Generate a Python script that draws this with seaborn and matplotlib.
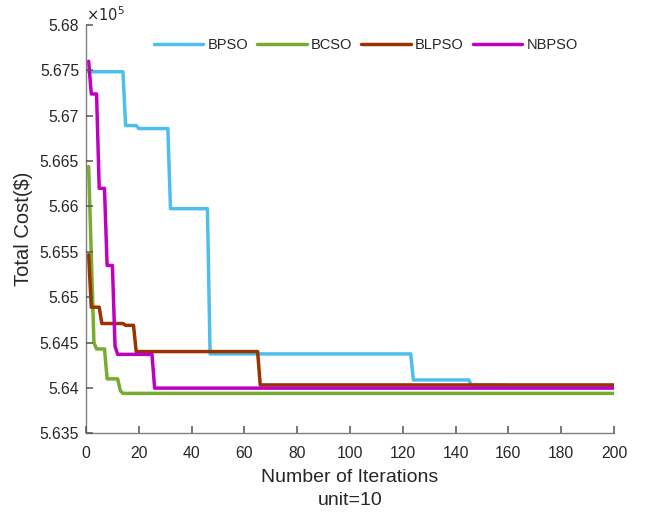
import matplotlib
matplotlib.use("Agg")
import matplotlib.pyplot as plt
import pandas as pd
import seaborn as sns
from matplotlib.ticker import FuncFormatter

# Convergence curves (vertices of each polyline)
bpso_it = [1, 14, 15, 19, 20, 31, 32, 46, 47, 123, 124, 145, 146, 159, 160, 200]
bpso_val = [567485, 567485, 566892, 566892, 566859, 566859, 565976, 565976,
            564375, 564375, 564088, 564088, 564030, 564030, 564012, 564012]

bcso_it = [1, 2, 3, 4, 7, 8, 12, 13, 14, 200]
bcso_val = [566440, 565470, 564500, 564430, 564430, 564100, 564100, 563970,
            563940, 563940]

blpso_it = [1, 2, 5, 6, 14, 15, 18, 19, 65, 66, 200]
blpso_val = [565468, 564890, 564890, 564710, 564710, 564690, 564690, 564401,
             564401, 564033, 564033]

nbpso_it = [1, 2, 4, 5, 7, 8, 10, 11, 12, 25, 26, 200]
nbpso_val = [567600, 567240, 567240, 566200, 566200, 565350, 565350, 564460,
             564370, 564370, 563998, 563998]

names = ["BPSO", "BCSO", "BLPSO", "NBPSO"]
colors = ["#4DBEEE", "#77AC30", "#993300", "#C000C0"]

sns.set_style("ticks", {"axes.axisbelow": False})
plt.rcParams['font.family'] = ['Liberation Sans', 'DejaVu Sans']
plt.rcParams['xtick.direction'] = 'in'
plt.rcParams['ytick.direction'] = 'in'
plt.rcParams['xtick.major.size'] = 5
plt.rcParams['ytick.major.size'] = 5
plt.rcParams['xtick.major.width'] = 1.1
plt.rcParams['ytick.major.width'] = 1.1
plt.rcParams['xtick.color'] = '#555555'
plt.rcParams['ytick.color'] = '#555555'
plt.rcParams['xtick.major.pad'] = 9
plt.rcParams['ytick.major.pad'] = 5

fig = plt.figure(figsize=(6.55, 5.18), dpi=100)
ax = fig.add_axes([0.1313, 0.1635, 0.8061, 0.7882])

series = [(bpso_it, bpso_val), (bcso_it, bcso_val),
          (blpso_it, blpso_val), (nbpso_it, nbpso_val)]
for (its, vals), name, c in zip(series, names, colors):
    d = pd.DataFrame({"iteration": its, "cost": vals})
    sns.lineplot(data=d, x="iteration", y="cost", ax=ax, color=c,
                 linewidth=2.5, label=name, sort=False, estimator=None)

ax.set_xlim(0, 200)
ax.set_ylim(563500, 568000)
ax.set_xticks(range(0, 201, 20))
ax.set_yticks(range(563500, 568001, 500))
ax.yaxis.set_major_formatter(FuncFormatter(lambda v, p: f"{v/1e5:g}"))
ax.text(0.0, 1.003, r"$\times10^5$", transform=ax.transAxes,
        fontsize=10.5, color="#262626", ha="left", va="bottom")

ax.spines["top"].set_visible(False)
ax.spines["right"].set_visible(False)
for s in ["left", "bottom"]:
    ax.spines[s].set_color("#808080")
    ax.spines[s].set_linewidth(1.0)
ax.tick_params(labelsize=11.3, labelcolor="#262626")

ax.set_xlabel("Number of Iterations\nunit=10", fontsize=14, color="#262626",
              linespacing=1.45, labelpad=6)
ax.set_ylabel("Total Cost($)", fontsize=14.5, color="#262626", labelpad=5)

ax.legend(loc="center", bbox_to_anchor=(0.53, 0.951), ncol=4, frameon=False,
          fontsize=10.5, handlelength=3.4, handletextpad=0.3,
          columnspacing=0.6, borderaxespad=0)

fig.savefig("out.png", dpi=100)
